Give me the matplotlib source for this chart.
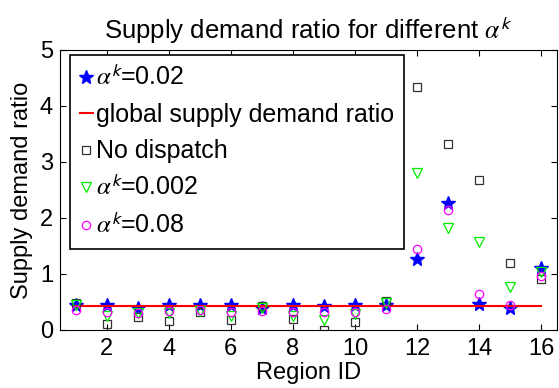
import numpy as np
import matplotlib.pyplot as plt

plt.rcParams['font.family'] = ['Liberation Sans', 'DejaVu Sans']
plt.rcParams['mathtext.fontset'] = 'stix'

region = np.arange(1, 17)
global_ratio = 0.43

# supply demand ratio per region
alpha_002 = [0.45, 0.45, 0.40, 0.44, 0.45, 0.44, 0.40, 0.45,
             0.43, 0.44, 0.44, 1.26, 2.27, 0.46, 0.40, 1.10]
no_dispatch = [0.48, 0.11, 0.24, 0.16, 0.33, 0.17, 0.42, 0.20,
               0.00, 0.14, 0.51, 4.34, 3.33, 2.68, 1.20, 0.91]
alpha_0002 = [0.44, 0.25, 0.30, 0.30, 0.34, 0.25, 0.40, 0.25,
              0.18, 0.29, 0.48, 2.80, 1.83, 1.57, 0.77, 1.03]
alpha_008 = [0.36, 0.32, 0.30, 0.34, 0.35, 0.33, 0.34, 0.33,
             0.32, 0.33, 0.37, 1.45, 2.14, 0.64, 0.44, 0.96]

ak = r'$\alpha^{\mathsf{k}}$'

fig = plt.figure(figsize=(5.59, 3.88), dpi=100)
ax = fig.add_axes([60/559, 1 - 330/388, 497/559, 280/388])

ax.plot(region, alpha_002, '*', color='blue', ms=10, mec='blue', label=ak + '=0.02')
ax.plot(region, np.full(len(region), global_ratio), '-', color='red', lw=1.5,
        label='global supply demand ratio')
ax.plot(region, no_dispatch, 's', mfc='none', mec='#333333', ms=6, mew=0.9, label='No dispatch')
ax.plot(region, alpha_0002, 'v', mfc='none', mec='#00ee00', ms=7.5, mew=0.9, label=ak + '=0.002')
ax.plot(region, alpha_008, 'o', mfc='none', mec='magenta', ms=6, mew=0.9, label=ak + '=0.08')

ax.set_xlim(0.5, 16.5)
ax.set_ylim(0, 5)
ax.set_xticks(range(2, 17, 2))
ax.set_yticks(range(0, 6))
ax.tick_params(direction='in', top=True, right=True, labelsize=17, length=4)
ax.tick_params(axis='x', pad=6)
ax.tick_params(axis='y', pad=5)
ax.set_xlabel('Region ID', fontsize=17, labelpad=1)
ax.set_ylabel('Supply demand ratio', fontsize=17, labelpad=5)
ax.set_title('Supply demand ratio for different ' + ak, fontsize=18.5, pad=8)

leg = ax.legend(loc='upper left', bbox_to_anchor=(10/497, 1 - 5/280), borderaxespad=0,
                fontsize=18, handlelength=0.5, handletextpad=0.15,
                labelspacing=0.5, borderpad=0.4, fancybox=False, framealpha=1,
                edgecolor='black')
leg.get_frame().set_linewidth(1.2)

fig.savefig('out.png', dpi=100)
